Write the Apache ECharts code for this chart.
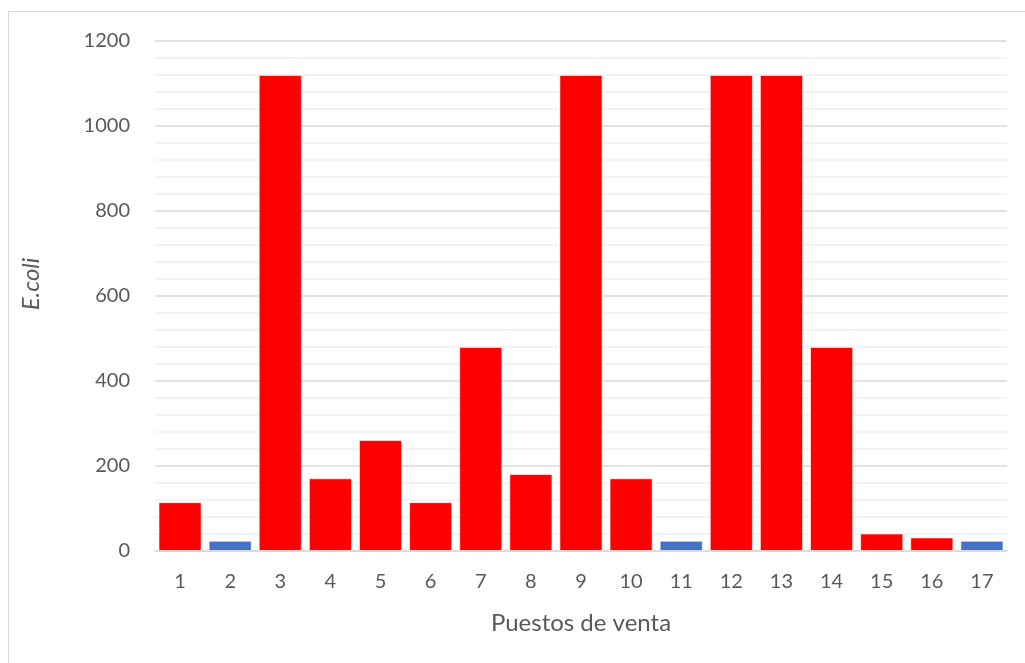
<!DOCTYPE html>
<html>
<head>
<meta charset="utf-8">
<script src="https://cdn.jsdelivr.net/npm/echarts@6/dist/echarts.min.js"></script>
<style>
  html, body { margin: 0; padding: 0; background: #fff; }
  #frame { position: absolute; left: 8px; top: 11px; width: 1040px; height: 680px; border: 1px solid #d9d9d9; box-sizing: border-box; }
  #chart { position: absolute; left: 0; top: 0; width: 1025px; height: 663px; }
</style>
</head>
<body>
<div id="frame"></div>
<div id="chart"></div>
<script>
// Puestos de venta (stall numbers)
const puestos = ['1','2','3','4','5','6','7','8','9','10','11','12','13','14','15','16','17'];
// E. coli count per stall
const ecoli = [115, 24, 1120, 171, 261, 115, 480, 181, 1120, 171, 24, 1120, 1120, 480, 41, 32, 24];
// Stalls within the acceptable limit (drawn in blue)
const dentroLimite = [false, true, false, false, false, false, false, false, false, false, true, false, false, false, false, false, true];
const yTicks = [0, 200, 400, 600, 800, 1000, 1200];

const RED = '#FF0000';
const BLUE = '#4472C4';
const TEXT = '#595959';
const FONT = 'Lato, "Open Sans", sans-serif';

const chart = echarts.init(document.getElementById('chart'), null, { renderer: 'canvas' });
chart.setOption({
  animation: false,
  grid: { left: 155, right: 18, top: 41, bottom: 112 },
  xAxis: {
    type: 'category',
    data: puestos,
    name: 'Puestos de venta',
    nameLocation: 'middle',
    nameGap: 60,
    nameTextStyle: { color: TEXT, fontSize: 24, fontFamily: FONT },
    axisLine: { show: true, lineStyle: { color: '#d9d9d9', width: 1.5 } },
    axisTick: { show: false },
    axisLabel: { color: TEXT, fontSize: 20, fontFamily: FONT, margin: 21 },
    z: 5
  },
  yAxis: {
    type: 'value',
    min: yTicks[0],
    max: yTicks[yTicks.length - 1],
    interval: 200,
    name: 'E.coli',
    nameLocation: 'middle',
    nameGap: 112,
    nameTextStyle: { color: TEXT, fontSize: 24, fontFamily: FONT, fontStyle: 'italic', padding: [0, 0, 0, 24] },
    axisLine: { show: false },
    axisTick: { show: false },
    axisLabel: { color: TEXT, fontSize: 20, fontFamily: FONT, margin: 25, formatter: v => String(v) },
    splitLine: { lineStyle: { color: '#d9d9d9', width: 1.5 } },
    minorTick: { show: false, splitNumber: 5 },
    minorSplitLine: { show: true, lineStyle: { color: '#f0f0f0', width: 1.5 } }
  },
  series: [{
    type: 'bar',
    barCategoryGap: '14%',
    data: ecoli.map((v, i) => ({
      value: v,
      itemStyle: { color: dentroLimite[i] ? BLUE : RED }
    })),
    itemStyle: { borderColor: 'rgba(255,255,255,0.55)', borderWidth: 1 }
  }]
});
</script>
</body>
</html>
